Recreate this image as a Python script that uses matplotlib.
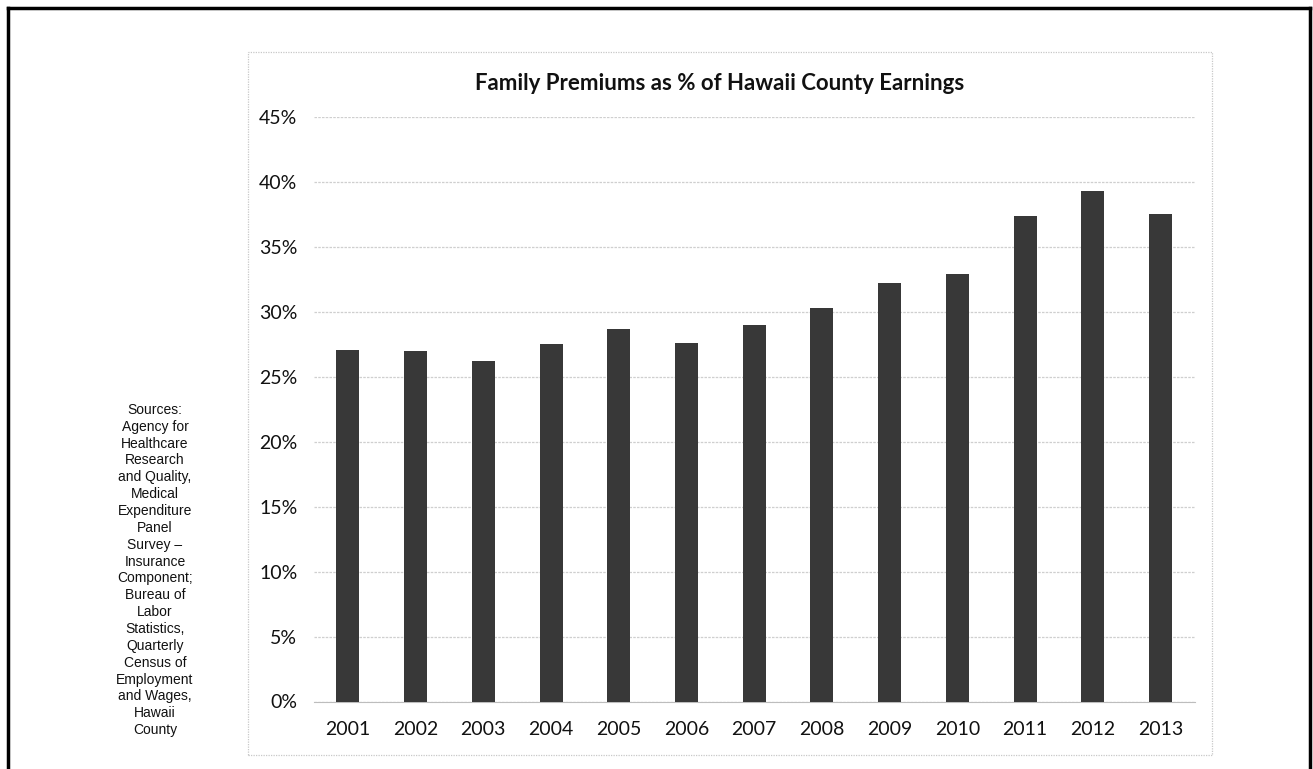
import matplotlib
matplotlib.use('Agg')
import matplotlib.pyplot as plt
from matplotlib.lines import Line2D
from matplotlib.patches import Rectangle
from matplotlib.ticker import FuncFormatter

years = ['2001', '2002', '2003', '2004', '2005', '2006', '2007',
         '2008', '2009', '2010', '2011', '2012', '2013']
premium_pct = [27.1, 27.0, 26.2, 27.5, 28.7, 27.6, 29.0,
               30.3, 32.2, 32.9, 37.4, 39.3, 37.5]
y_ticks = [0, 5, 10, 15, 20, 25, 30, 35, 40, 45]

title = 'Family Premiums as % of Hawaii County Earnings'
sources = ('Sources:\nAgency for\nHealthcare\nResearch\nand Quality,\nMedical\n'
           'Expenditure\nPanel\nSurvey \u2013\nInsurance\nComponent;\nBureau of\n'
           'Labor\nStatistics,\nQuarterly\nCensus of\nEmployment\nand Wages,\n'
           'Hawaii\nCounty')

W, H = 1313, 769
fig = plt.figure(figsize=(W / 100, H / 100), dpi=100)

def fx(px):
    return px / W

def fy(py):
    return 1 - py / H

# outer frame (bottom edge falls off the page)
for xs, ys in [([8, 8], [8, 775]), ([8, 1310], [8, 8]), ([1310, 1310], [8, 775])]:
    fig.add_artist(Line2D([fx(v) for v in xs], [fy(v) for v in ys],
                          color='black', lw=2.5, transform=fig.transFigure))

# chart box
fig.add_artist(Rectangle((fx(248), fy(755)), fx(1212) - fx(248), fy(52) - fy(755),
                         transform=fig.transFigure, fill=False,
                         edgecolor='#c8c8c8', lw=0.9, ls=(0, (1, 1))))

ax = fig.add_axes([fx(314), fy(701.5), fx(1194.5) - fx(314), fy(117) - fy(701.5)])
x = range(len(years))
ax.bar(x, premium_pct, width=0.34, color='#383838', zorder=3)

ax.set_xlim(-0.5, len(years) - 0.5)
ax.set_ylim(0, 45)
ax.set_yticks(y_ticks)
ax.yaxis.set_major_formatter(FuncFormatter(lambda v, p: f'{v:.0f}%'))
ax.set_xticks(list(x))
ax.set_xticklabels(years)
ax.grid(axis='y', color='#cfcfcf', lw=0.9, ls=(0, (2, 1)), zorder=0)
for s in ['left', 'right', 'top']:
    ax.spines[s].set_visible(False)
ax.spines['bottom'].set_color('#bdbdbd')
ax.tick_params(axis='both', length=0, labelsize=14, colors='#111111')
ax.tick_params(axis='y', pad=12)
ax.tick_params(axis='x', pad=14)
for lab in ax.get_xticklabels() + ax.get_yticklabels():
    lab.set_family('Lato')

fig.text(fx(720), fy(83), title, ha='center', va='center',
         fontsize=16, fontweight='bold', family='Lato', color='#111111')

fig.text(fx(155), fy(570), sources, ha='center', va='center',
         fontsize=10, family='Liberation Sans', linespacing=1.26, color='#111111')

fig.savefig('out.png', dpi=100)
